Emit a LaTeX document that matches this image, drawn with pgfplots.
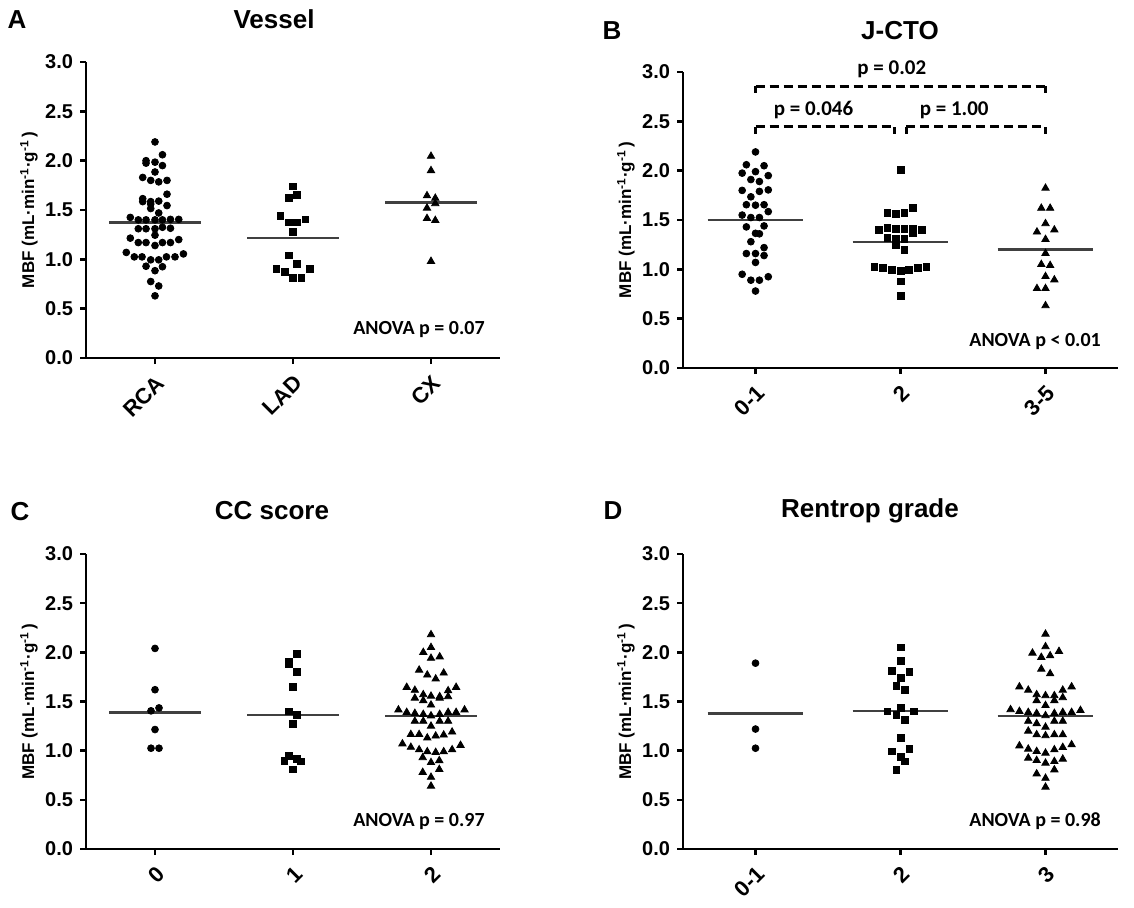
\documentclass[border=0pt]{standalone}
\usepackage{fontspec}
\setmainfont{Liberation Sans}
\newfontfamily\calfont{Carlito}
\usepackage{pgfplots}
\pgfplotsset{compat=1.18}

\pgfplotsset{
  mbf/.style={
    scale only axis,
    anchor=south west,
    xmin=-0.5, xmax=2.5, ymin=0, ymax=3,
    axis x line=bottom, axis y line=left,
    axis line style={-, line width=1.3pt},
    tick align=outside,
    major tick length=3pt,
    every tick/.style={line width=1.3pt, black},
    xtick={0,1,2},
    ytick={0,0.5,1,1.5,2,2.5,3},
    /pgf/number format/fixed,
    /pgf/number format/fixed zerofill,
    /pgf/number format/precision=1,
    /pgf/number format/assume math mode=true,
    yticklabel style={font=\bfseries\fontsize{10}{12}\selectfont},
    xticklabel style={rotate=45, anchor=north east, font=\bfseries\fontsize{11}{13}\selectfont},
    ylabel={MBF (mL·min\textsuperscript{-1}·g\textsuperscript{-1}\,)},
    ylabel style={at={([xshift=-28.5pt]axis description cs:0,0.5)}, anchor=center,
      font=\bfseries\fontsize{8.5}{10}\selectfont},
    clip=false,
  },
  med/.style={black!75, line width=1.2pt, forget plot},
  dots/.style={only marks, black, mark=*, mark size=1.7pt},
  sqs/.style={only marks, black, mark=square*, mark size=1.7pt},
  tris/.style={only marks, black, mark=triangle*, mark size=2.1pt},
}
\tikzset{
  anova/.style={anchor=base east, font=\calfont\bfseries\fontsize{10}{12}\selectfont},
  ptxt/.style={anchor=base, font=\calfont\bfseries\fontsize{10.5}{12}\selectfont},
  brk/.style={line width=1.3pt, dash pattern=on 4.5pt off 2.5pt},
  brkend/.style={line width=1.3pt},
  ttl/.style={font=\bfseries\fontsize{13}{15}\selectfont},
}

\begin{document}
\begin{tikzpicture}
\useasboundingbox (0,0) rectangle (567pt,453.5pt);

% ---------------- A: Vessel
\node[ttl] at (8.5pt,443.5pt) {A};
\node[ttl] at (137pt,444pt) {Vessel};
\begin{axis}[mbf, at={(43pt,274.5pt)}, width=207pt, height=148pt,
  xticklabels={RCA,LAD,CX}]
\addplot[med] coordinates {(-0.33,1.375) (0.33,1.375)};
\addplot[med] coordinates {(0.67,1.215) (1.33,1.215)};
\addplot[med] coordinates {(1.67,1.575) (2.33,1.575)};
\addplot[dots] coordinates {
(0,2.19) (0.054,2.06) (-0.065,2.00) (-0.065,1.975) (0,1.985) (0.054,1.95)
(0,1.885) (-0.089,1.83) (-0.031,1.80) (0.027,1.785) (0.087,1.80)
(0.087,1.66) (-0.089,1.615) (-0.089,1.585) (-0.031,1.585) (0.027,1.59)
(-0.031,1.56) (-0.031,1.515) (0.087,1.545) (0.027,1.47)
(-0.179,1.425) (-0.121,1.40) (-0.065,1.40) (0,1.40) (0.054,1.40) (0.112,1.405) (0.172,1.405)
(-0.121,1.31) (-0.065,1.31) (0,1.31) (0.054,1.325) (0.112,1.315)
(0,1.245) (-0.179,1.215) (0.172,1.20)
(-0.121,1.17) (-0.065,1.17) (0,1.14) (0.054,1.17) (0.112,1.17)
(-0.208,1.07) (-0.150,1.025) (-0.094,1.025) (-0.031,0.995) (0.027,0.995)
(0.083,1.025) (0.145,1.025) (0.206,1.055)
(-0.065,0.93) (0.054,0.925) (0,0.885) (-0.031,0.775) (0.027,0.73) (0,0.63)
};
\addplot[sqs] coordinates {
(1,1.74) (0.969,1.62) (1.029,1.655) (0.908,1.44) (0.969,1.375) (1.029,1.375)
(1.09,1.405) (1,1.28) (0.969,1.04) (1.029,0.95) (0.879,0.90) (0.939,0.875)
(1,0.81) (1.061,0.81) (1.121,0.90)
};
\addplot[tris] coordinates {
(2,2.045) (2,1.90) (1.971,1.645) (2.031,1.62) (1.971,1.52) (2.031,1.565)
(1.971,1.415) (2.031,1.395) (2,0.98)
};
\node[anova] at (axis cs:2.44,0.24) {ANOVA p = 0.07};
\end{axis}

% ---------------- B: J-CTO
\node[ttl] at (306pt,438pt) {B};
\node[ttl] at (450pt,438pt) {J-CTO};
\begin{axis}[mbf, at={(341.5pt,269.5pt)}, width=217.5pt, height=148pt,
  xticklabels={0-1,2,3-5}]
\addplot[med] coordinates {(-0.33,1.50) (0.33,1.50)};
\addplot[med] coordinates {(0.67,1.275) (1.33,1.275)};
\addplot[med] coordinates {(1.67,1.20) (2.33,1.20)};
\addplot[dots] coordinates {
(0,2.19) (-0.063,2.06) (0.059,2.05) (-0.092,1.975) (0,1.99) (0.088,1.95)
(-0.032,1.91) (0.027,1.89) (-0.092,1.80) (0.027,1.79) (0.088,1.805)
(-0.032,1.735) (-0.063,1.655) (0,1.65) (0.059,1.655) (0.088,1.585)
(-0.092,1.55) (-0.032,1.525) (0.027,1.525) (-0.063,1.43) (0.059,1.44)
(0,1.365) (0.027,1.36) (-0.032,1.28) (0.059,1.22) (-0.063,1.16) (0,1.16)
(0.059,1.14) (0,1.07) (-0.092,0.95) (-0.032,0.89) (0.027,0.89) (0.088,0.925)
(0,0.78)
};
\addplot[sqs] coordinates {
(1,2.01) (0.91,1.57) (0.968,1.56) (1.027,1.57) (1.088,1.62)
(0.849,1.40) (0.91,1.42) (0.968,1.41) (1.027,1.41) (1.088,1.41) (1.147,1.40)
(1.088,1.365) (0.91,1.32) (0.968,1.305) (1.027,1.31) (0.968,1.25) (1.027,1.20)
(0.82,1.026) (0.878,1.016) (0.939,0.992) (1,0.982) (1.059,0.992) (1.12,1.016) (1.178,1.026)
(1,0.877) (1,0.731)
};
\addplot[tris] coordinates {
(2,1.823) (1.971,1.62) (2.032,1.62) (2,1.464) (1.941,1.379) (2.061,1.40)
(2,1.304) (2,1.162) (1.971,1.05) (2.032,1.04) (2,0.928) (2.061,0.894)
(1.941,0.806) (2,0.806) (2,0.632)
};
% comparison brackets
\draw[brk] (axis cs:0,2.855) -- (axis cs:2,2.855);
\draw[brkend] (axis cs:0,2.79) -- (axis cs:0,2.855) (axis cs:2,2.79) -- (axis cs:2,2.855);
\draw[brk] (axis cs:0,2.445) -- (axis cs:0.96,2.445);
\draw[brkend] (axis cs:0,2.375) -- (axis cs:0,2.445) (axis cs:0.96,2.375) -- (axis cs:0.96,2.445);
\draw[brk] (axis cs:1.04,2.445) -- (axis cs:2,2.445);
\draw[brkend] (axis cs:1.04,2.375) -- (axis cs:1.04,2.445) (axis cs:2,2.375) -- (axis cs:2,2.445);
\node[ptxt] at (axis cs:0.94,2.97) {p = 0.02};
\node[ptxt] at (axis cs:0.40,2.56) {p = 0.046};
\node[ptxt] at (axis cs:1.37,2.56) {p = 1.00};
\node[anova] at (axis cs:2.43,0.22) {ANOVA p < 0.01};
\end{axis}

% ---------------- C: CC score
\node[ttl] at (10pt,197.5pt) {C};
\node[ttl] at (136pt,198pt) {CC score};
\begin{axis}[mbf, at={(43pt,29pt)}, width=207pt, height=147.5pt,
  xticklabels={0,1,2}]
\addplot[med] coordinates {(-0.33,1.39) (0.33,1.39)};
\addplot[med] coordinates {(0.67,1.365) (1.33,1.365)};
\addplot[med] coordinates {(1.67,1.355) (2.33,1.355)};
\addplot[dots] coordinates {
(0,2.04) (0,1.62) (-0.029,1.405) (0.029,1.435) (0,1.215) (-0.029,1.025) (0.029,1.025)
};
\addplot[sqs] coordinates {
(1.03,1.985) (0.97,1.905) (0.97,1.88) (1.03,1.80) (1,1.645) (0.97,1.40)
(1.03,1.365) (1,1.27) (0.973,0.95) (0.937,0.90) (1.029,0.92) (1.06,0.89) (1,0.81)
};
\addplot[tris] coordinates {
(2,2.18) (1.944,2.00) (2,2.05) (2,1.94) (2.063,1.955)
(1.914,1.82) (1.973,1.77) (2.034,1.73) (2.092,1.79)
(1.824,1.645) (1.883,1.615) (1.944,1.57) (2,1.555) (2.063,1.55) (2.124,1.61) (2.182,1.645)
(1.883,1.535) (1.944,1.51) (2.063,1.535) (2.124,1.55) (2,1.465)
(1.764,1.415) (1.824,1.39) (1.883,1.38) (1.944,1.37) (2,1.355) (2.063,1.37)
(2.124,1.39) (2.182,1.39) (2.243,1.415)
(1.883,1.30) (1.944,1.30) (2.063,1.30) (2.124,1.30) (2,1.25)
(1.854,1.165) (1.914,1.165) (1.973,1.13) (2.034,1.15) (2.092,1.16) (2.153,1.19)
(1.793,1.07) (1.854,1.035) (1.914,1.01) (1.973,0.99) (2.034,0.983) (2.092,0.99)
(2.153,1.01) (2.214,1.055)
(1.94,0.93) (2.06,0.90) (2,0.88) (1.94,0.78) (2.06,0.81) (2,0.73) (2,0.64)
};
\node[anova] at (axis cs:2.44,0.23) {ANOVA p = 0.97};
\end{axis}

% ---------------- D: Rentrop grade
\node[ttl] at (306.5pt,198pt) {D};
\node[ttl] at (435pt,198pt) {Rentrop grade};
\begin{axis}[mbf, at={(341.5pt,29pt)}, width=217.5pt, height=147.5pt,
  xticklabels={0-1,2,3}]
\addplot[med] coordinates {(-0.33,1.38) (0.33,1.38)};
\addplot[med] coordinates {(0.67,1.405) (1.33,1.405)};
\addplot[med] coordinates {(1.67,1.355) (2.33,1.355)};
\addplot[dots] coordinates {(0,1.89) (0,1.22) (0,1.025)};
\addplot[sqs] coordinates {
(1,2.05) (1,1.91) (0.939,1.815) (1.061,1.80) (1,1.74) (0.971,1.66) (1.029,1.62)
(0.91,1.40) (1,1.435) (1.09,1.40) (0.971,1.367) (1.029,1.316) (1,1.13)
(0.939,0.993) (1.061,1.017) (1,0.94) (1.029,0.89) (0.971,0.806)
};
\addplot[tris] coordinates {
(2,2.186) (2,2.058) (1.91,1.993) (1.971,1.95) (2.032,1.966) (2.093,2.01)
(1.971,1.83) (2.032,1.783)
(1.82,1.65) (1.881,1.616) (1.939,1.57) (2,1.56) (2.061,1.56) (2.119,1.616) (2.18,1.65)
(1.939,1.51) (2.061,1.51) (2.119,1.54) (2,1.46)
(1.759,1.418) (1.82,1.40) (1.881,1.39) (1.939,1.38) (2,1.357) (2.061,1.38)
(2.119,1.39) (2.18,1.39) (2.241,1.41)
(1.881,1.30) (1.939,1.276) (2,1.24) (2.061,1.30) (2.119,1.30)
(1.881,1.20) (1.939,1.163) (2,1.153) (2.061,1.163) (2.119,1.163)
(1.82,1.05) (1.881,1.017) (1.939,0.993) (2,0.976) (2.061,1.01) (2.119,1.034) (2.18,1.061)
(1.881,0.925) (1.939,0.901) (2,0.874) (2.061,0.891) (2.119,0.915)
(1.939,0.765) (2.061,0.806) (2,0.72) (2,0.63)
};
\node[anova] at (axis cs:2.43,0.23) {ANOVA p = 0.98};
\end{axis}
\end{tikzpicture}
\end{document}
